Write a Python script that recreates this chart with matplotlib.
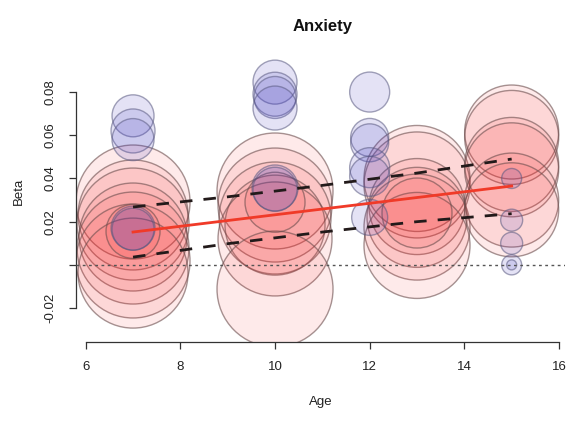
import numpy as np
import matplotlib.pyplot as plt

plt.rcParams['font.family'] = ['Liberation Sans', 'DejaVu Sans']

# studies drawn in red (larger weights)
red_age = [7, 7, 7, 7, 7, 7, 7, 7,
           10, 10, 10, 10, 10, 10, 10,
           13, 13, 13, 13, 13, 13, 13,
           15, 15, 15, 15, 15, 15]
red_beta = [0.0291, 0.0231, 0.0189, 0.0129, 0.0078, 0.0018, -0.0038, 0.0155,
            0.0342, 0.0277, 0.0217, 0.0184, 0.0120, -0.0112, 0.0290,
            0.0400, 0.0370, 0.0270, 0.0220, 0.0175, 0.0090, 0.0240,
            0.0615, 0.0590, 0.0465, 0.0440, 0.0300, 0.0255]
red_wt = [57, 55, 56, 54, 56, 57, 55, 27,
          58, 57, 56, 50, 57, 58, 30,
          53, 53, 48, 50, 53, 53, 35,
          47, 47, 47, 47, 47, 47]

# studies drawn in blue (smaller weights)
blue_age = [7, 7, 7, 7, 7,
            10, 10, 10, 10, 10, 10,
            12, 12, 12, 12, 12, 12,
            15, 15, 15, 15, 15]
blue_beta = [0.0690, 0.0620, 0.0580, 0.0170, 0.0165,
             0.0846, 0.0790, 0.0775, 0.0726, 0.0356, 0.0350,
             0.0800, 0.0590, 0.0565, 0.0450, 0.0410, 0.0220,
             0.0400, 0.0207, 0.0100, 0.0000, 0.0000]
blue_wt = [21, 22, 21, 22, 21,
           22, 22, 21, 22, 23, 22,
           20, 19, 19, 20, 20, 18,
           10, 11, 11, 10, 5]

# meta-regression fit and confidence band
fit_age = [7, 15]
fit_beta = [0.0152, 0.0365]
ci_age = [7, 9, 11, 13, 15]
ci_upper = [0.0268, 0.0315, 0.0368, 0.0425, 0.0490]
ci_lower = [0.0036, 0.0098, 0.0152, 0.0200, 0.0237]

W, H = 571, 423
fig = plt.figure(figsize=(W / 100, H / 100), dpi=100)
ax = fig.add_axes([76 / W, 81 / H, 489 / W, 302 / H])

# circle radius proportional to weight, largest one 0.58 inch
max_r = 0.58
wmax = max(red_wt + blue_wt)


def marker_size(w):
    return [(2 * 72 * max_r * v / wmax) ** 2 for v in w]


ax.scatter(red_age, red_beta, s=marker_size(red_wt),
           facecolor=(0.98, 0.12, 0.12, 0.09), edgecolor=(0.42, 0.3, 0.3, 0.6),
           linewidth=1.0, zorder=2)
ax.scatter(blue_age, blue_beta, s=marker_size(blue_wt),
           facecolor=(0.25, 0.22, 0.75, 0.14), edgecolor=(0.35, 0.35, 0.5, 0.55),
           linewidth=1.0, zorder=3)

ax.axhline(0, color='#555555', linestyle=(0, (2, 2.5)), linewidth=1, zorder=4)
ax.plot(ci_age, ci_upper, color='#221a1a', linewidth=2, dashes=(4.5, 4), zorder=5)
ax.plot(ci_age, ci_lower, color='#221a1a', linewidth=2, dashes=(4.5, 4), zorder=5)
ax.plot(fit_age, fit_beta, color='#f03a28', linewidth=2, zorder=6)

ax.set_xlim(5.795, 16.127)
ax.set_ylim(-0.0357, 0.1041)

ax.set_xticks([6, 8, 10, 12, 14, 16])
ax.set_yticks([-0.02, 0, 0.02, 0.04, 0.06, 0.08])
ax.set_yticklabels(['-0.02', '', '0.02', '0.04', '0.06', '0.08'],
                   rotation=90, va='center')

for side in ['top', 'right']:
    ax.spines[side].set_visible(False)
ax.spines['left'].set_bounds(-0.02, 0.08)
ax.spines['bottom'].set_bounds(6, 16)
for side in ['left', 'bottom']:
    ax.spines[side].set_color('#333333')
    ax.spines[side].set_linewidth(0.9)

ax.tick_params(direction='out', length=5, width=0.9, color='#333333',
               labelsize=9.5, labelcolor='#222222')
ax.tick_params(axis='x', pad=9)
ax.tick_params(axis='y', pad=9)

ax.set_xlabel('Age', fontsize=9.5, labelpad=16, color='#222222')
ax.set_ylabel('Beta', fontsize=9.5, labelpad=14, color='#222222')
fig.text(323 / W, 1 - 27 / H, 'Anxiety', ha='center', va='center',
         fontsize=12, fontweight='bold', color='#111111')

fig.savefig('out.png', dpi=100)
